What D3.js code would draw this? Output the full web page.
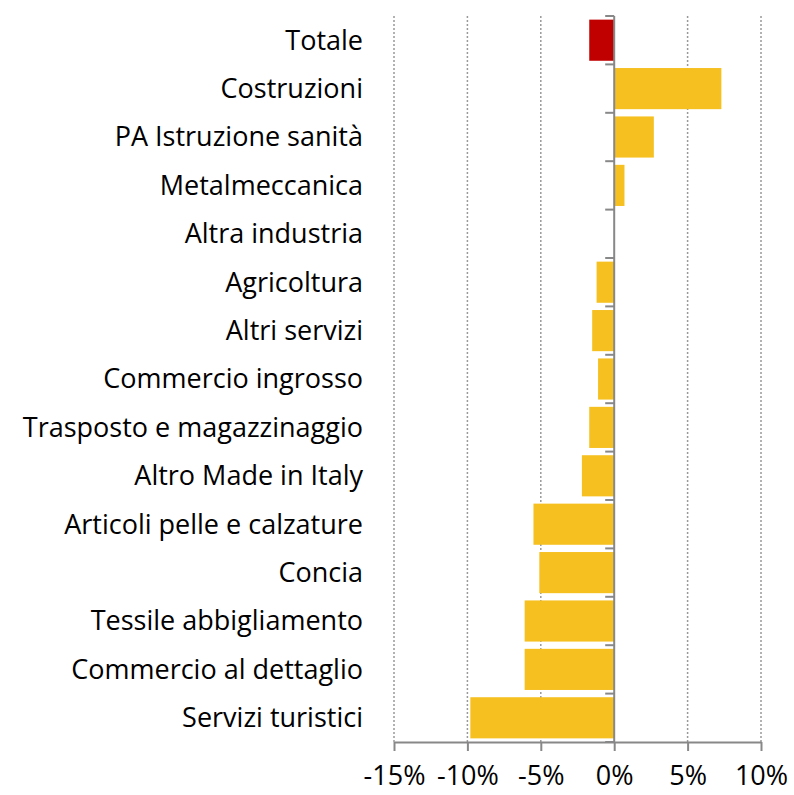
<!DOCTYPE html>
<html>
  <head>
    <meta charset="utf-8">
    <script src="https://d3js.org/d3.v7.min.js"></script>
    <style>
      body { margin: 0; background: #fff; }
      text { font-family: "Open Sans", sans-serif; }
    </style>
  </head>
  <body>
    <div id="chart"></div>
    <script>
      // sectors top to bottom, values in percent
      const categories = [
        'Totale', 'Costruzioni', 'PA Istruzione sanità', 'Metalmeccanica',
        'Altra industria', 'Agricoltura', 'Altri servizi', 'Commercio ingrosso',
        'Trasposto e magazzinaggio', 'Altro Made in Italy',
        'Articoli pelle e calzature', 'Concia', 'Tessile abbigliamento',
        'Commercio al dettaglio', 'Servizi turistici'
      ];
      const values = [-1.7, 7.3, 2.7, 0.7, 0, -1.2, -1.5, -1.1, -1.7, -2.2, -5.5, -5.1, -6.1, -6.1, -9.8];
      const xTicks = [-15, -10, -5, 0, 5, 10];

      const width = 794, height = 795;
      const margin = { top: 16, right: 33, bottom: 53, left: 394 };
      const w = width - margin.left - margin.right;
      const h = height - margin.top - margin.bottom;

      const svg = d3.select('#chart').append('svg')
        .attr('width', width)
        .attr('height', height);
      const g = svg.append('g')
        .attr('transform', 'translate(' + margin.left + ',' + margin.top + ')');

      const x = d3.scaleLinear().domain([-15, 10]).range([0, w]);
      const y = d3.scaleBand().domain(categories).range([0, h]).paddingInner(0.15).paddingOuter(0.075);

      // dotted gridlines
      g.selectAll('.grid')
        .data(xTicks.filter(d => d !== 0))
        .enter().append('line')
        .attr('x1', d => x(d)).attr('x2', d => x(d))
        .attr('y1', 0).attr('y2', h)
        .attr('stroke', '#999')
        .attr('stroke-width', 1.5)
        .attr('stroke-dasharray', '2,2');

      // bars
      g.selectAll('.bar')
        .data(categories)
        .enter().append('rect')
        .attr('x', (d, i) => x(Math.min(0, values[i])))
        .attr('y', d => y(d))
        .attr('width', (d, i) => Math.abs(x(values[i]) - x(0)))
        .attr('height', y.bandwidth())
        .attr('fill', (d, i) => i === 0 ? '#C00000' : '#F6C020');

      // x axis
      const xAxis = g.append('g')
        .attr('transform', 'translate(0,' + h + ')')
        .call(d3.axisBottom(x).tickValues(xTicks).tickFormat(d => d + '%').tickSize(9).tickSizeOuter(0).tickPadding(15));
      xAxis.select('.domain').attr('stroke', '#888').attr('stroke-width', 2);
      xAxis.selectAll('.tick line').attr('stroke', '#888').attr('stroke-width', 2);
      xAxis.selectAll('.tick text').attr('font-size', 27).attr('fill', '#000')
        .style('font-family', '"Open Sans", sans-serif');

      // y axis at zero with tick marks between bands
      const bounds = d3.range(categories.length + 1).map(i => i * h / categories.length);
      g.append('line')
        .attr('x1', x(0)).attr('x2', x(0))
        .attr('y1', 0).attr('y2', h)
        .attr('stroke', '#888').attr('stroke-width', 2);
      g.selectAll('.ytick')
        .data(bounds)
        .enter().append('line')
        .attr('x1', x(0) - 9).attr('x2', x(0))
        .attr('y1', d => d).attr('y2', d => d)
        .attr('stroke', '#888').attr('stroke-width', 2);

      // category labels
      g.selectAll('.label')
        .data(categories)
        .enter().append('text')
        .attr('x', -31)
        .attr('y', d => y(d) + y.bandwidth() / 2)
        .attr('dy', '0.35em')
        .attr('text-anchor', 'end')
        .attr('font-size', 27)
        .attr('fill', '#000')
        .text(d => d);
    </script>
  </body>
</html>
